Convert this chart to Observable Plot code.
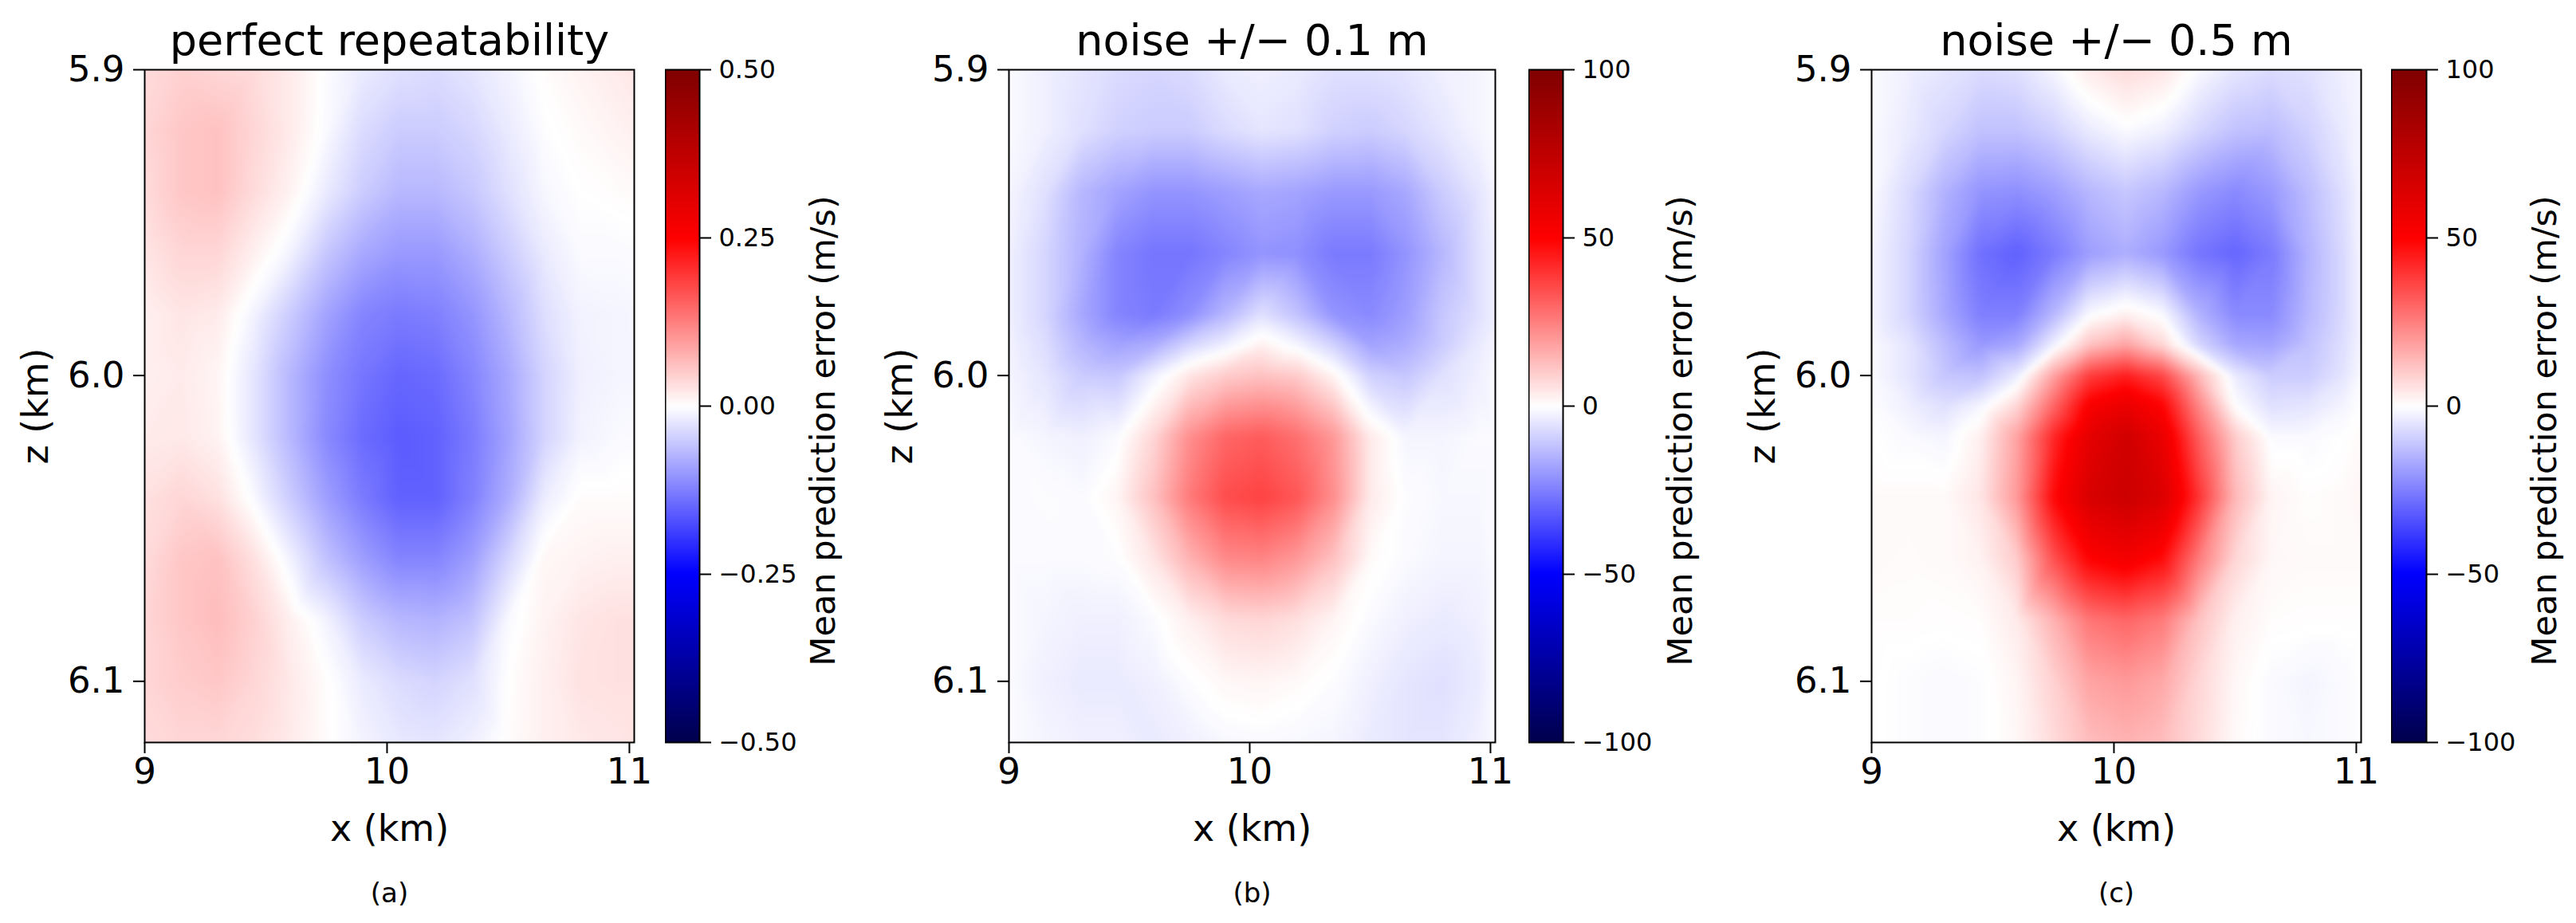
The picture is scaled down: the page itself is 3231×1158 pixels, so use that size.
<!DOCTYPE html>
<html><head><meta charset="utf-8">
<script src="https://cdn.jsdelivr.net/npm/d3@7"></script>
<script src="https://cdn.jsdelivr.net/npm/@observablehq/plot@0.6"></script>
<style>
html,body{margin:0;padding:0;background:#fff}
#page{position:relative;width:3231px;height:1158px;overflow:hidden}
#page svg{position:absolute;top:0;background:transparent;font-family:"DejaVu Sans"}
</style></head><body><div id="page"></div>
<script>
const xNodes=[9.0,9.15,9.3,9.45,9.6,9.75,9.9,10.05,10.2,10.35,10.5,10.65,10.8,10.95,11.02];
const zNodesA=[5.90,5.92,5.94,5.96,5.98,6.00,6.02,6.04,6.06,6.08,6.10,6.12];
const zNodesB=[5.90,5.92,5.94,5.96,5.98,5.99,6.00,6.02,6.04,6.06,6.08,6.10,6.12];
const zNodesC=[5.90,5.92,5.94,5.96,5.98,5.99,6.00,6.01,6.02,6.04,6.06,6.08,6.10,6.12];
const errorA=[
[.035,.045,.04,.035,.02,-.003,-.02,-.03,-.035,-.025,-.012,.003,.012,.02,.025],
[.04,.055,.06,.04,.02,-.005,-.035,-.05,-.05,-.04,-.02,-.002,.005,.012,.015],
[.035,.055,.06,.035,.012,-.02,-.05,-.07,-.07,-.055,-.03,-.008,0,.003,.005],
[.025,.04,.04,.015,-.012,-.055,-.085,-.1,-.1,-.08,-.05,-.02,-.005,-.005,-.004],
[.015,.025,.02,-.012,-.05,-.09,-.12,-.13,-.125,-.105,-.07,-.032,-.012,-.01,-.009],
[.015,.02,.01,-.025,-.07,-.11,-.135,-.15,-.145,-.12,-.085,-.042,-.015,-.01,-.01],
[.02,.022,.012,-.025,-.07,-.115,-.145,-.16,-.155,-.13,-.09,-.042,-.012,-.006,-.005],
[.03,.04,.03,-.005,-.05,-.095,-.13,-.155,-.155,-.125,-.08,-.018,.003,.003,.003],
[.035,.055,.06,.03,-.012,-.06,-.095,-.12,-.12,-.095,-.04,.008,.012,.015,.015],
[.04,.055,.065,.045,.015,-.012,-.05,-.07,-.075,-.06,-.006,.012,.025,.03,.03],
[.04,.05,.055,.04,.022,.002,-.02,-.035,-.042,-.03,.001,.015,.028,.03,.03],
[.035,.04,.04,.033,.02,.003,-.012,-.022,-.025,-.015,.003,.015,.022,.025,.027]];
const errorB=[
[-1,-3,-5,-7,-8,-7,-4,-3,-4,-6,-6,-5,-3,-2,-1],
[-1,-3,-6,-9,-10,-10,-7,-5,-6,-9,-10,-8,-5,-2,-1],
[-2,-6,-14,-18,-21,-21,-19,-17,-18,-20,-20,-17,-10,-5,-2],
[-3,-8,-15,-24,-27,-27,-24,-21,-22,-26,-26,-21,-14,-6,-3],
[-3,-8,-17,-24,-26,-22,-14,-6,-12,-21,-23,-19,-11,-6,-3],
[-2.5,-6.5,-14,-18,-16,-8,-3,3,-2,-9,-18,-16,-10,-4,-2],
[-2,-5,-10,-11,-3,5,10,12,10,2,-9,-11,-6,-3,-1],
[-1,-2,-3,-1,8,22,30,32,28,20,4,-2,-2,-1,-1],
[-1,-.5,-1,2,12,26,35,37,33,22,4,-.5,-1.5,-1.5,-1],
[-1,-1,-1,-.5,5,15,23,24,20,12,1,-1,-2,-2,-1],
[-1,-2,-3,-3,-1,3,7,8,6,2,-1,-3,-4,-3,-1],
[-1,-3,-4,-4,-3,-.5,1.5,2,1,-.5,-3,-5,-6,-4,-1],
[-1,-2,-3,-3,-4,-3,-1.5,-1,-1.5,-2,-4,-5,-5,-3,-1]];
const errorC=[
[-1,-3,-5,-7,-6,-2,4,7,5,-1,-5,-7,-6,-3,-2],
[-1,-4,-8,-12,-12,-9,-4,-1,-3,-8,-12,-13,-9,-4,-2],
[-1,-7,-15,-21,-22,-19,-14,-11,-14,-20,-23,-20,-13,-6,-2],
[-2,-8,-18,-28,-31,-26,-19,-16,-20,-27,-30,-26,-15,-7,-2],
[-2,-8,-17,-25,-25,-14,-1,3,-1,-15,-23,-23,-14,-7,-2],
[-1,-5,-13,-20,-17,-3,12,18,8,-8,-17,-18,-12,-6,-2],
[-1,-5,-11,-12,-4,18,38,44,36,14,-4,-10,-10,-5,-1],
[-.5,-3,-6,-2,8,30,52,58,50,24,0,-6,-5,-2,0],
[0,-1,-2,3,18,42,60,68,58,32,10,-1,-1,0,1],
[1,1,1,5,20,48,65,70,64,40,14,2,.5,1,2],
[1,.8,1,2.5,10,34,50,54,48,26,8,1.5,1,1,1],
[.5,.5,.3,.5,4,15,27,30,26,12,3,.5,.3,.3,.3],
[.2,-.5,-1,-.5,2,9,18,20,17,8,1.5,-1,-2,-1,0],
[.2,-.5,-1,-.5,1.5,7,13,15,13,7,1,-1,-1.5,-1,0]];
const seismic=["#00004d","#0000ff","#ffffff","#ff0000","#800000"];
const xTicks=[9,10,11], zTicks=[5.9,6.0,6.1];
const panels=[
 {title:"perfect repeatability",cap:"(a)",grid:errorA,z:zNodesA,lim:.5,cbTicks:[-.5,-.25,0,.25,.5],fmt:d3.format(".2f"),left:181,right:795,cbL:834,cbR:877,lblX:156},
 {title:"noise +/\u2212 0.1 m",cap:"(b)",grid:errorB,z:zNodesB,lim:100,cbTicks:[-100,-50,0,50,100],fmt:d3.format("d"),left:1265,right:1875,cbL:1917,cbR:1960,lblX:148},
 {title:"noise +/\u2212 0.5 m",cap:"(c)",grid:errorC,z:zNodesC,lim:100,cbTicks:[-100,-50,0,50,100],fmt:d3.format("d"),left:2347,right:2961,cbL:2999,cbR:3043,lblX:149}
];
const top0=87,bottom0=931,H=1158;
const page=document.getElementById("page");
const minus=s=>s.replace("-","\u2212");
function color(lim){return {type:"linear",domain:[-lim,-lim/2,0,lim/2,lim],range:seismic,interpolate:"rgb"};}
for(const p of panels){
  const points=[];
  p.z.forEach((z,i)=>xNodes.forEach((x,j)=>points.push({x,z,v:p.grid[i][j]})));
  const pad=181;
  const heat=Plot.plot({
    width:pad+(p.right-p.left)+40,height:H,marginLeft:pad,marginRight:40,marginTop:top0,marginBottom:H-bottom0,
    x:{domain:[9,11.02]},y:{domain:[5.9,6.12],reverse:true},color:color(p.lim),
    marks:[
      Plot.raster(points,{x:"x",y:"z",fill:"v",interpolate:"barycentric",x1:9,x2:11.02,y1:5.9,y2:6.12,pixelSize:1,blur:3}),
      Plot.frame({stroke:"#000",strokeWidth:2}),
      Plot.axisX({ticks:xTicks,tickSize:14,tickPadding:6,fontSize:45,tickFormat:d=>d,label:null,strokeWidth:2}),
      Plot.axisY({ticks:zTicks,tickSize:14,tickPadding:11,fontSize:45,tickFormat:d3.format(".1f"),label:null,strokeWidth:2}),
      Plot.text([p.title],{frameAnchor:"top",dy:-36,fontSize:54,fill:"#000",lineAnchor:"middle",text:d=>d}),
      Plot.text(["x (km)"],{frameAnchor:"bottom",dy:109,fontSize:46,fill:"#000",lineAnchor:"middle",text:d=>d}),
      Plot.text([p.cap],{frameAnchor:"bottom",dy:190,fontSize:34,fill:"#000",lineAnchor:"middle",text:d=>d}),
      Plot.text(["z (km)"],{frameAnchor:"left",dx:-136,rotate:-90,fontSize:46,fill:"#000",textAnchor:"middle",lineAnchor:"middle",text:d=>d})
    ]
  });
  heat.style.left=(p.left-pad)+"px";
  page.appendChild(heat);
  const levels=d3.range(255,-1,-1).map(i=>-p.lim+2*p.lim*i/255);
  const cb=Plot.plot({
    width:(p.cbR-p.cbL)+(p===panels[2]?188:260),height:H,marginLeft:0,marginRight:p===panels[2]?188:260,marginTop:top0,marginBottom:H-bottom0,
    x:{domain:[0,1],axis:null},y:{domain:[-p.lim,p.lim]},color:color(p.lim),
    marks:[
      Plot.raster(levels,{width:1,height:256,x1:0,x2:1,y1:p.lim,y2:-p.lim,fill:d=>d,imageRendering:"auto"}),
      Plot.frame({stroke:"#000",strokeWidth:2}),
      Plot.axisY({anchor:"right",ticks:p.cbTicks,tickSize:14,tickPadding:10,fontSize:32,tickFormat:d=>minus(p.fmt(d)),label:null,strokeWidth:2}),
      Plot.text(["Mean prediction error (m/s)"],{frameAnchor:"right",dx:p.lblX,dy:31,rotate:-90,fontSize:43,fill:"#000",textAnchor:"middle",lineAnchor:"middle",text:d=>d})
    ]
  });
  cb.style.left=p.cbL+"px";
  page.appendChild(cb);
}
</script></body></html>
